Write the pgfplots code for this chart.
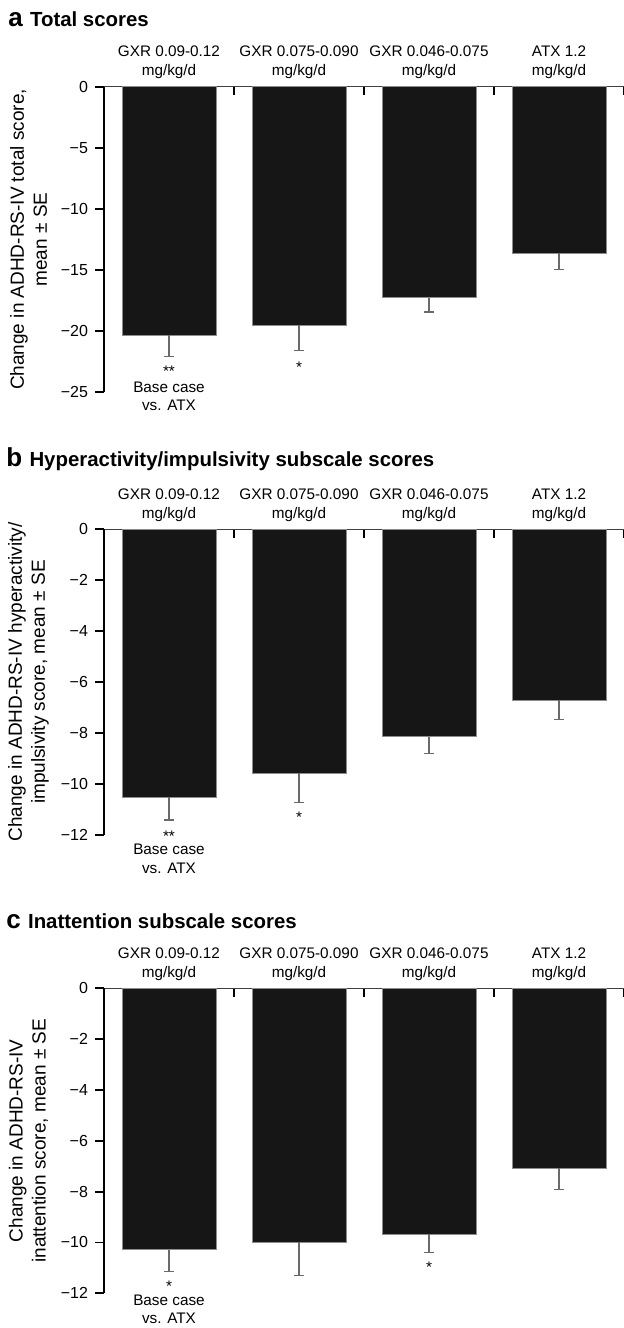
\documentclass[border=0pt]{standalone}
\usepackage{fontspec}
\setmainfont{Liberation Sans}
\usepackage{pgfplots}
\pgfplotsset{compat=1.18}
\definecolor{barfill}{HTML}{161616}
\definecolor{baredge}{HTML}{8C8C8C}
\definecolor{errc}{HTML}{6A6A6A}
\pgfplotsset{
 panel/.style={
  scale only axis, width=260pt, anchor=north west,
  xmin=-0.5, xmax=3.5, ymax=0,
  enlargelimits=false,
  axis x line=top, axis y line=left,
  x axis line style={-, line width=0.5pt, draw=black!75},
  y axis line style={-, line width=0.9pt, draw=black},
  xtick={0,1,2,3},
  xticklabels={GXR 0.09-0.12\\mg/kg/d, GXR 0.075-0.090\\mg/kg/d, GXR 0.046-0.075\\mg/kg/d, ATX 1.2\\mg/kg/d},
  xticklabel style={align=center, font=\fontsize{7.65}{9.5}\selectfont, yshift=-4.0pt},
  major x tick style={draw=none},
  minor xtick={0.5,1.5,2.5,3.5},
  minor x tick style={line width=0.6pt, black, yshift=-4.3pt},
  minor tick length=4.3pt,
  tick align=outside,
  major tick length=4.5pt,
  major y tick style={line width=0.9pt, black},
  yticklabel style={font=\fontsize{8}{9.6}\selectfont},
  clip=false,
  ybar, bar width=47pt,
 },
 bars/.style={fill=barfill, draw=baredge, line width=0.4pt,
  error bars/.cd, y dir=minus, y explicit, error mark=|,
  error bar style={errc, line width=0.55pt},
  error mark options={errc, line width=0.55pt, mark size=2.6pt}},
}
\begin{document}
\begin{tikzpicture}
\useasboundingbox (0,0) rectangle (312pt,-664pt);
% panel a
\begin{axis}[panel, at={(52pt,-43.35pt)}, height=152.5pt, ymin=-25,
  ytick={-25,-20,-15,-10,-5,0}, yticklabels={−25,−20,−15,−10,−5,0}]
\addplot[bars] coordinates {(0,-20.35) -= (0,1.75) (1,-19.56) -= (0,2.08) (2,-17.3) -= (0,1.17) (3,-13.66) -= (0,1.36)};
\end{axis}
% panel b
\begin{axis}[panel, at={(52pt,-264.65pt)}, height=152.85pt, ymin=-12,
  ytick={-12,-10,-8,-6,-4,-2,0}, yticklabels={−12,−10,−8,−6,−4,−2,0}]
\addplot[bars] coordinates {(0,-10.52) -= (0,0.89) (1,-9.58) -= (0,1.14) (2,-8.14) -= (0,0.65) (3,-6.70) -= (0,0.76)};
\end{axis}
% panel c
\begin{axis}[panel, at={(52pt,-494.15pt)}, height=152.5pt, ymin=-12,
  ytick={-12,-10,-8,-6,-4,-2,0}, yticklabels={−12,−10,−8,−6,−4,−2,0}]
\addplot[bars] coordinates {(0,-10.29) -= (0,0.86) (1,-9.99) -= (0,1.32) (2,-9.67) -= (0,0.72) (3,-7.07) -= (0,0.86)};
\end{axis}
\begin{scope}[x=0.5pt,y=-0.5pt]
% titles
\node[anchor=base west, inner sep=0] at (8,26) {\fontsize{13}{14}\selectfont\bfseries a \fontsize{10.2}{12}\selectfont Total scores};
\node[anchor=base west, inner sep=0] at (6,466.7) {\fontsize{13}{14}\selectfont\bfseries b \fontsize{10.2}{12}\selectfont Hyperactivity/impulsivity subscale scores};
\node[anchor=base west, inner sep=0] at (6,928.3) {\fontsize{13}{14}\selectfont\bfseries c \fontsize{10.2}{12}\selectfont Inattention subscale scores};
% y labels
\node[rotate=90, align=center, font=\fontsize{9.5}{11.5}\selectfont] at (28.5,239.5) {Change in ADHD-RS-IV total score,\\mean ± SE};
\node[rotate=90, align=center, font=\fontsize{9.5}{11.5}\selectfont] at (28.5,682) {Change in ADHD-RS-IV hyperactivity/\\impulsivity score, mean ± SE};
\node[rotate=90, align=center, font=\fontsize{9.5}{11.5}\selectfont] at (28.5,1140.8) {Change in ADHD-RS-IV\\inattention score, mean ± SE};
% annotations
\begin{scope}[every node/.style={anchor=base, inner sep=0, font=\fontsize{7.65}{9.5}\selectfont}]
\node at (169,376.2) {**};
\node at (299,372.2) {*};
\node at (169,392.2) {Base case};
\node at (169,410.5) {vs. ATX};
\node at (169,841.6) {**};
\node at (299,822.9) {*};
\node at (169,854.8) {Base case};
\node at (169,873.2) {vs. ATX};
\node at (169,1291.9) {*};
\node at (429,1272.9) {*};
\node at (169,1305.5) {Base case};
\node at (169,1323.5) {vs. ATX};
\end{scope}
\end{scope}
\end{tikzpicture}
\end{document}
